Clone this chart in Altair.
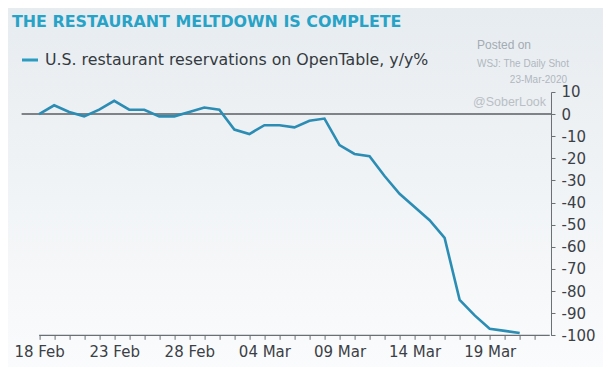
import altair as alt
import pandas as pd

# ---- data ----
dates = [d.strftime("%Y-%m-%d") for d in pd.date_range("2020-02-18", "2020-03-21", freq="D")]
values = [0, 4, 1, -1, 2, 6, 2, 2, -1, -1, 1, 3, 2, -7, -9, -5, -5, -6, -3, -2,
          -14, -18, -19, -28, -36, -42, -48, -56, -84, -91, -97, -98, -99]
tick_days = [d.strftime("%Y-%m-%d") for d in pd.date_range("2020-02-18", "2020-03-22", freq="D")]
y_ticks = list(range(-100, 11, 10))
title_text = "THE RESTAURANT MELTDOWN IS COMPLETE"
legend_text = "U.S. restaurant reservations on OpenTable, y/y%"
notes = ["Posted on", "WSJ: The Daily Shot", "23-Mar-2020", "@SoberLook"]

df = pd.DataFrame({"date": dates, "value": values})

def ms(s):
    return int(pd.Timestamp(s, tz="UTC").timestamp() * 1000)

tick_ms = [ms(d) for d in tick_days]
origin = ms("2020-02-18")
DAY = 86400000

W, H = 529.4, 243.3
PAD = {"left": 13.6, "top": 84, "right": 52, "bottom": 32}

TEAL = "#27a3c7"
LINE = "#2b8db4"
TXT = "#3b4046"
FONT = "DejaVu Sans"

xscale = alt.Scale(type="utc", domain=[ms("2020-02-16T20:00:00"), ms("2020-03-23T02:00:00")])
yscale = alt.Scale(domain=[-100, 10], nice=False)

x_axis = alt.Axis(
    values=tick_ms,
    labelExpr=f"round((datum.value - {origin}) / {DAY}) % 5 == 0 ? utcFormat(datum.value, '%d %b') : ''",
    domain=False, grid=False, ticks=True, tickSize=4, tickColor="#6a6f74",
    labelFont=FONT, labelFontSize=15, labelColor=TXT, labelPadding=5,
    labelOverlap=False, labelFlush=False, title=None, zindex=2,
)
y_axis = alt.Axis(
    orient="right", values=y_ticks, labelExpr="datum.value + ''",
    domain=True, domainColor="#6a6f74", grid=False, tickSize=4, tickColor="#6a6f74",
    labelFont=FONT, labelFontSize=15, labelColor=TXT, labelPadding=6, title=None, zindex=2,
)

one = alt.Data(values=[{}])

bg = alt.Chart(one).mark_rect(
    color=alt.Gradient(
        gradient="linear",
        stops=[alt.GradientStop(color="#e7ecf0", offset=0),
               alt.GradientStop(color="#fafbfc", offset=1)],
        x1=0, x2=0, y1=0, y2=1,
    )
).encode(
    x=alt.value(-PAD["left"]), x2=alt.value(W + PAD["right"]),
    y=alt.value(-PAD["top"]), y2=alt.value(H + PAD["bottom"]),
)

zero = alt.Chart(alt.Data(values=[{"y": 0}])).mark_rule(color="#5a5f64", strokeWidth=1.5).encode(
    y=alt.Y("y:Q", scale=yscale, axis=y_axis)
)

base_rule = alt.Chart(alt.Data(values=[{"s": dates[0], "e": "2020-03-23", "y": -100}])).mark_rule(
    color="#6a6f74", strokeWidth=1.2
).encode(
    x=alt.X("s:T", scale=xscale, axis=x_axis),
    x2="e:T",
    y=alt.Y("y:Q", scale=yscale, axis=y_axis),
)

line = alt.Chart(df).mark_line(color=LINE, strokeWidth=2.6).encode(
    x=alt.X("date:T", scale=xscale, axis=x_axis),
    y=alt.Y("value:Q", scale=yscale, axis=y_axis),
)

title = alt.Chart(one).mark_text(
    text=title_text, align="left", baseline="alphabetic",
    font=FONT, fontSize=15.9, fontWeight="bold", color=TEAL,
).encode(x=alt.value(-9.6), y=alt.value(-65))

leg_mark = alt.Chart(one).mark_rule(color="#2a9cc2", strokeWidth=3).encode(
    x=alt.value(0.4), x2=alt.value(16.4), y=alt.value(-32)
)
leg_text = alt.Chart(one).mark_text(
    text=legend_text, align="left", baseline="middle",
    font=FONT, fontSize=15.8, color="#343a40",
).encode(x=alt.value(23.4), y=alt.value(-32))

n1 = alt.Chart(one).mark_text(text=notes[0], align="left", baseline="middle",
                              font="Liberation Sans", fontSize=12, color="#a3abb3"
                              ).encode(x=alt.value(455.4), y=alt.value(-47))
n2 = alt.Chart(one).mark_text(text=notes[1], align="left", baseline="middle",
                              font="Liberation Sans", fontSize=10, color="#b0b7be"
                              ).encode(x=alt.value(455.4), y=alt.value(-28))
n3 = alt.Chart(one).mark_text(text=notes[2], align="right", baseline="middle",
                              font="Liberation Sans", fontSize=10, color="#b0b7be"
                              ).encode(x=alt.value(545.4), y=alt.value(-12))
n4 = alt.Chart(one).mark_text(text=notes[3], align="left", baseline="middle",
                              font="Liberation Sans", fontSize=12.5, color="#b9bfc5"
                              ).encode(x=alt.value(451.4), y=alt.value(10))

chart = alt.layer(
    bg, zero, base_rule, line, title, leg_mark, leg_text, n1, n2, n3, n4
).properties(
    width=W, height=H,
    autosize=alt.AutoSizeParams(type="none"),
    padding=PAD,
    background="#eef1f4",
).configure_view(stroke=None)

chart.save("out.html", embed_options={"renderer": "svg", "actions": False})
